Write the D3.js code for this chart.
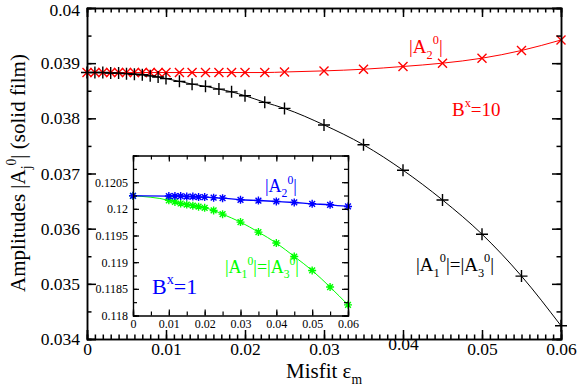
<!DOCTYPE html>
<html>
<head>
<meta charset="utf-8">
<script src="https://cdn.jsdelivr.net/npm/d3@7/dist/d3.min.js"></script>
<style>
	body { margin: 0; background: #fff; }
	svg { display: block; }
</style>
</head>
<body>
<svg id="chart" width="578" height="388"></svg>
<script>
// main plot: B^x = 10
var misfit = [0, 0.001, 0.002, 0.003, 0.004, 0.005, 0.006, 0.007, 0.008, 0.009, 0.01,
	0.0117, 0.0133, 0.015, 0.0167, 0.0183, 0.02, 0.0225, 0.025, 0.03, 0.035, 0.04, 0.045, 0.05, 0.055, 0.06]
var a13Main = [0.03883, 0.03883, 0.03883, 0.03882, 0.03882, 0.03881, 0.0388, 0.03879, 0.03877, 0.03875, 0.03872,
	0.03867, 0.03862, 0.03858, 0.03853, 0.03848, 0.03841, 0.03829, 0.03818, 0.03788, 0.03752, 0.03706, 0.03652, 0.0359, 0.03514, 0.03424]
var a2Main = [0.03883, 0.03883, 0.03883, 0.03883, 0.03883, 0.03883, 0.03883, 0.03883, 0.03883, 0.03883, 0.03883,
	0.03883, 0.03883, 0.03883, 0.03883, 0.03883, 0.03883, 0.03883, 0.03884, 0.03886, 0.03889, 0.03894, 0.039, 0.03909, 0.03923, 0.03942]

// inset: B^x = 1
var misfitInset = [0, 0.01, 0.0117, 0.0133, 0.015, 0.0167, 0.0183, 0.02, 0.0225, 0.025, 0.03, 0.035, 0.04, 0.045, 0.05, 0.055, 0.06]
var a2Inset = [0.120245, 0.12024, 0.12024, 0.12024, 0.12023, 0.12023, 0.12022, 0.12022, 0.12021, 0.1202, 0.12017, 0.120156, 0.120138, 0.120119, 0.120094, 0.120076, 0.120044]
var a13Inset = [0.120245, 0.12016, 0.12013, 0.1201, 0.12008, 0.12006, 0.12004, 0.12002, 0.11997, 0.1199, 0.119751, 0.119564, 0.119358, 0.119106, 0.118844, 0.118533, 0.1182]

var mainYTicks = [0.034, 0.035, 0.036, 0.037, 0.038, 0.039, 0.04]
var mainXTicks = [0, 0.01, 0.02, 0.03, 0.04, 0.05, 0.06]
var insetYTicks = [0.118, 0.1185, 0.119, 0.1195, 0.12, 0.1205]

var FONT = 'Liberation Serif'
var svg = d3.select('#chart')

var x = d3.scaleLinear().domain([0, 0.06]).range([87, 561])
var y = d3.scaleLinear().domain([0.034, 0.04]).range([339, 8])

function fmt(d) {
	return d3.format('')(+d.toFixed(4))
}

// draw inward ticks on all four sides of a frame
function frame(g, xs, ys, opt) {
	var xr = xs.range(), yr = ys.range()
	g.append('g').attr('transform', 'translate(0,' + yr[0] + ')')
		.call(d3.axisBottom(xs).tickValues(opt.xMinor).tickSize(-opt.minor).tickFormat(''))
	g.append('g').attr('transform', 'translate(0,' + yr[0] + ')')
		.call(d3.axisBottom(xs).tickValues(opt.xMajor).tickSize(-opt.major).tickPadding(opt.xpad).tickFormat(fmt))
		.attr('font-size', opt.font)
	g.append('g').attr('transform', 'translate(0,' + yr[1] + ')')
		.call(d3.axisTop(xs).tickValues(opt.xMinor).tickSize(-opt.minor).tickFormat(''))
	g.append('g').attr('transform', 'translate(0,' + yr[1] + ')')
		.call(d3.axisTop(xs).tickValues(opt.xMajor).tickSize(-opt.major).tickFormat(''))
	g.append('g').attr('transform', 'translate(' + xr[0] + ',0)')
		.call(d3.axisLeft(ys).tickValues(opt.yMinor).tickSize(-opt.minor).tickFormat(''))
	g.append('g').attr('transform', 'translate(' + xr[0] + ',0)')
		.call(d3.axisLeft(ys).tickValues(opt.yMajor).tickSize(-opt.major).tickPadding(opt.ypad).tickFormat(fmt))
		.attr('font-size', opt.font)
	g.append('g').attr('transform', 'translate(' + xr[1] + ',0)')
		.call(d3.axisRight(ys).tickValues(opt.yMinor).tickSize(-opt.minor).tickFormat(''))
	g.append('g').attr('transform', 'translate(' + xr[1] + ',0)')
		.call(d3.axisRight(ys).tickValues(opt.yMajor).tickSize(-opt.major).tickFormat(''))
	g.selectAll('.domain').attr('stroke-width', opt.width)
	g.selectAll('.tick line').attr('stroke-width', opt.width)
	g.selectAll('.tick text').attr('fill', '#000').style('font-family', FONT)
}

function marker(g, type, cx, cy, s, colour, w) {
	var p = d3.path()
	if (type === 'plus') {
		p.moveTo(cx - s, cy); p.lineTo(cx + s, cy)
		p.moveTo(cx, cy - s); p.lineTo(cx, cy + s)
	} else if (type === 'cross') {
		p.moveTo(cx - s, cy - s); p.lineTo(cx + s, cy + s)
		p.moveTo(cx - s, cy + s); p.lineTo(cx + s, cy - s)
	} else {
		p.moveTo(cx - s, cy); p.lineTo(cx + s, cy)
		p.moveTo(cx, cy - s); p.lineTo(cx, cy + s)
		var k = s * 0.72
		p.moveTo(cx - k, cy - k); p.lineTo(cx + k, cy + k)
		p.moveTo(cx - k, cy + k); p.lineTo(cx + k, cy - k)
	}
	g.append('path').attr('d', p.toString()).attr('stroke', colour).attr('stroke-width', w).attr('fill', 'none')
}

function series(g, xs, ys, xv, yv, colour, type, s, lw, mw) {
	var line = d3.line().x((d, i) => xs(xv[i])).y((d) => ys(d)).curve(d3.curveMonotoneX)
	g.append('path').attr('d', line(yv)).attr('fill', 'none').attr('stroke', colour).attr('stroke-width', lw)
	yv.forEach(function (d, i) {
		marker(g, type, xs(xv[i]), ys(d), s, colour, mw)
	})
}

// text with sub/superscript pieces: [text, 'n'|'sub'|'sup']
function rich(g, px, py, size, colour, parts, anchor) {
	var t = g.append('text').attr('x', px).attr('y', py).attr('font-size', size).attr('fill', colour)
		.attr('text-anchor', anchor || 'start').style('font-family', FONT)
	var shift = 0
	parts.forEach(function (p) {
		var target = p[1] === 'sub' ? size * 0.3 : p[1] === 'sup' ? -size * 0.45 : 0
		t.append('tspan').attr('dy', target - shift).attr('font-size', p[1] === 'n' ? size : size * 0.65).text(p[0])
		shift = target
	})
	return t
}

var main = svg.append('g')
series(main, x, y, misfit, a2Main, '#ff0000', 'cross', 4.5, 1, 1.4)
series(main, x, y, misfit, a13Main, '#000', 'plus', 6, 1, 1.4)

frame(main, x, y, {
	xMajor: mainXTicks,
	xMinor: d3.range(61).map((i) => i / 1000),
	yMajor: mainYTicks,
	yMinor: d3.range(13).map((i) => 0.034 + i * 0.0005),
	major: 9, minor: 4.5, xpad: 4, ypad: 7, font: 17.5, width: 1.5,
})
// keep the top label inside the window
main.selectAll('.tick text').filter((d) => d === 0.04).attr('dy', '0.42em')

rich(main, 409, 53, 19, '#ff0000', [['|A', 'n'], ['2', 'sub'], ['0', 'sup'], ['|', 'n']])
rich(main, 452, 116, 19, '#ff0000', [['B', 'n'], ['x', 'sup'], ['=10', 'n']])
rich(main, 416, 271, 19, '#000', [['|A', 'n'], ['1', 'sub'], ['0', 'sup'], ['|=|A', 'n'], ['3', 'sub'], ['0', 'sup'], ['|', 'n']])

rich(main, 324, 378, 21, '#000', [['Misfit \u03b5', 'n'], ['m', 'sub']], 'middle')
rich(main, 0, 0, 21, '#000', [['Amplitudes |A', 'n'], ['j', 'sub'], ['0', 'sup'], ['| (solid film)', 'n']], 'middle')
	.attr('transform', 'translate(25,173) rotate(-90)')

// inset
var xi = d3.scaleLinear().domain([0, 0.06]).range([133, 348])
var yi = d3.scaleLinear().domain([0.118, 0.121]).range([315.5, 155.5])
var inset = svg.append('g')
inset.append('rect').attr('x', 133).attr('y', 155.5).attr('width', 215).attr('height', 160).attr('fill', '#fff')
series(inset, xi, yi, misfitInset, a13Inset, '#00ff00', 'star', 4, 1, 1.4)
series(inset, xi, yi, misfitInset, a2Inset, '#0000ff', 'star', 4, 1.3, 1.4)

frame(inset, xi, yi, {
	xMajor: mainXTicks,
	xMinor: d3.range(13).map((i) => i * 0.005),
	yMajor: insetYTicks,
	yMinor: d3.range(13).map((i) => 0.118 + i * 0.00025),
	major: 6, minor: 4, xpad: 4, ypad: 5, font: 12, width: 1.2,
})

rich(inset, 265, 192, 18, '#0000ff', [['|A', 'n'], ['2', 'sub'], ['0', 'sup'], ['|', 'n']])
rich(inset, 225, 273, 18, '#00ff00', [['|A', 'n'], ['1', 'sub'], ['0', 'sup'], ['|=|A', 'n'], ['3', 'sub'], ['0', 'sup'], ['|', 'n']])
rich(inset, 152, 294, 22, '#0000ff', [['B', 'n'], ['x', 'sup'], ['=1', 'n']])
</script>
</body>
</html>
